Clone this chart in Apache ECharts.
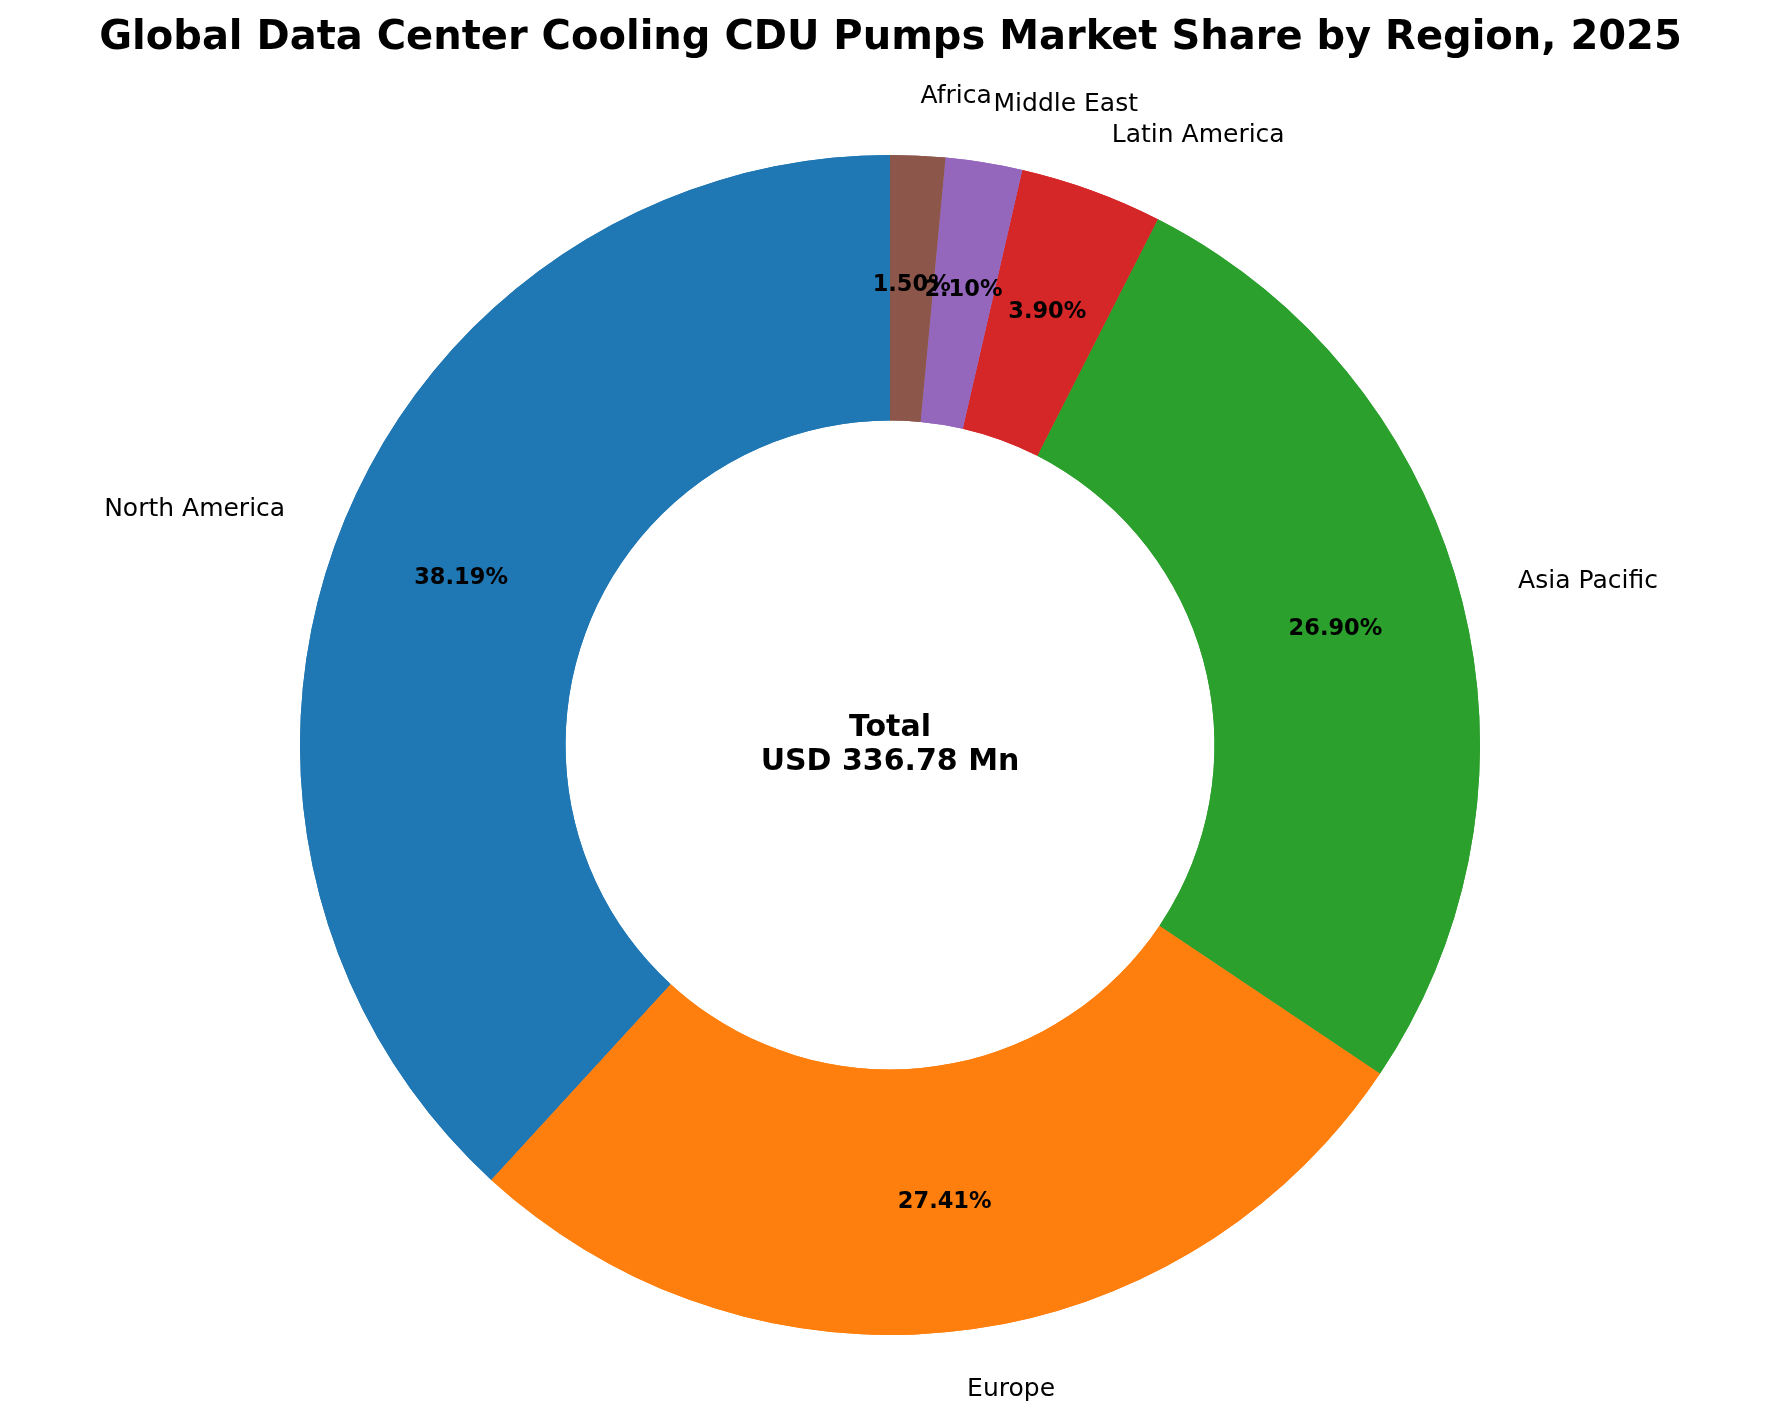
<!DOCTYPE html>
<html>
<head>
<meta charset="utf-8">
<script src="https://cdn.jsdelivr.net/npm/echarts@6/dist/echarts.min.js"></script>
<style>
html,body{margin:0;padding:0;background:#fff;}
#chart{width:1781px;height:1421px;}
</style>
</head>
<body>
<div id="chart"></div>
<script>
const regions = ['North America', 'Europe', 'Asia Pacific', 'Latin America', 'Middle East', 'Africa'];
const shares = [38.19, 27.41, 26.90, 3.90, 2.10, 1.50];
const colors = ['#1f77b4', '#ff7f0e', '#2ca02c', '#d62728', '#9467bd', '#8c564b'];
const totalUsdMn = 336.78;
const titleText = 'Global Data Center Cooling CDU Pumps Market Share by Region, 2025';

const FONT = 'DejaVu Sans';
const cx = 890, cy = 745, R = 590, R0 = R * 0.55;

const data = regions.map((name, i) => ({
  name: name,
  value: shares[i],
  itemStyle: { color: colors[i] }
}));

const chart = echarts.init(document.getElementById('chart'), null, { renderer: 'canvas' });
chart.setOption({
  backgroundColor: '#ffffff',
  animation: false,
  title: {
    text: titleText,
    left: 'center',
    top: 14,
    textStyle: { fontFamily: FONT, fontSize: 40, fontWeight: 'bold', color: '#000' }
  },
  graphic: [{
    type: 'text',
    x: cx,
    y: cy,
    style: {
      text: 'Total\nUSD ' + totalUsdMn.toFixed(2) + ' Mn',
      fontFamily: FONT,
      fontSize: 30,
      fontWeight: 'bold',
      fill: '#000',
      align: 'center',
      verticalAlign: 'middle',
      lineHeight: 34
    }
  }],
  series: [
    {
      type: 'pie',
      center: [cx, cy],
      radius: [R0, R],
      startAngle: 90,
      clockwise: false,
      avoidLabelOverlap: false,
      silent: true,
      data: data,
      labelLayout: { hideOverlap: false },
      label: {
        show: true,
        position: 'outside',
        formatter: '{b}',
        fontFamily: FONT,
        fontSize: 25,
        color: '#000',
        distanceToLabelLine: 0
      },
      labelLine: { show: false, length: R * 0.1, length2: 0 }
    },
    {
      type: 'pie',
      center: [cx, cy],
      radius: [R0, R],
      startAngle: 90,
      clockwise: false,
      avoidLabelOverlap: false,
      silent: true,
      data: data,
      labelLayout: { hideOverlap: false },
      label: {
        show: true,
        position: 'inside',
        formatter: p => p.value.toFixed(2) + '%',
        fontFamily: FONT,
        fontSize: 22.5,
        fontWeight: 'bold',
        color: '#000'
      },
      labelLine: { show: false }
    }
  ]
});
</script>
</body>
</html>
